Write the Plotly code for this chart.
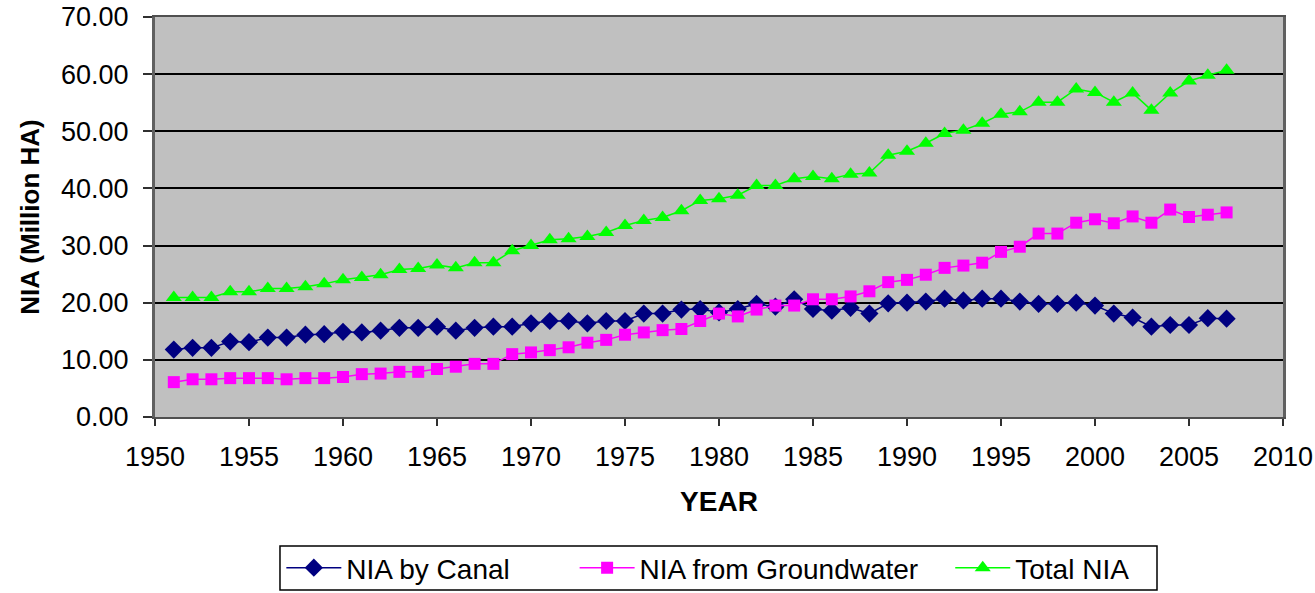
import plotly.graph_objects as go

years = list(range(1951, 2008))

canal = [11.8, 12.1, 12.1, 13.2, 13.1, 13.9, 13.9, 14.4, 14.5, 14.9,
         14.8, 15.1, 15.6, 15.6, 15.8, 15.1, 15.6, 15.8, 15.8, 16.4,
         16.8, 16.8, 16.4, 16.8, 16.8, 18.1, 18.1, 18.8, 18.9, 18.3,
         18.9, 19.8, 19.3, 20.6, 18.9, 18.6, 19.1, 18.1, 19.9, 20.0,
         20.2, 20.7, 20.4, 20.7, 20.7, 20.2, 19.8, 19.8, 20.0, 19.5,
         18.1, 17.4, 15.8, 16.1, 16.1, 17.3, 17.2]

groundwater = [6.1, 6.6, 6.6, 6.8, 6.8, 6.8, 6.6, 6.8, 6.8, 7.0,
               7.5, 7.6, 7.9, 7.9, 8.4, 8.8, 9.3, 9.3, 11.0, 11.3,
               11.7, 12.2, 13.0, 13.5, 14.4, 14.8, 15.2, 15.4, 16.8, 18.1,
               17.6, 18.8, 19.5, 19.5, 20.6, 20.6, 21.1, 22.0, 23.6, 24.0,
               24.9, 26.1, 26.5, 27.0, 28.9, 29.8, 32.1, 32.1, 34.0, 34.6,
               33.9, 35.1, 34.0, 36.3, 35.0, 35.4, 35.8]

total = [20.9, 20.9, 20.9, 21.9, 21.9, 22.5, 22.5, 22.8, 23.3, 24.0,
         24.4, 24.9, 25.8, 26.0, 26.6, 26.1, 27.0, 27.0, 29.1, 30.0,
         31.0, 31.2, 31.6, 32.3, 33.5, 34.4, 34.9, 36.1, 37.9, 38.2,
         38.8, 40.5, 40.5, 41.7, 42.1, 41.7, 42.5, 42.7, 45.8, 46.5,
         47.9, 49.6, 50.2, 51.4, 53.0, 53.4, 55.1, 55.1, 57.4, 56.8,
         55.1, 56.7, 53.7, 56.7, 58.8, 59.8, 60.7]

x_ticks = list(range(1950, 2011, 5))
y_ticks = list(range(0, 71, 10))

font_family = "Liberation Sans, Arial, sans-serif"

fig = go.Figure()
fig.add_trace(go.Scatter(x=years, y=canal, name="NIA by Canal", mode="lines+markers",
                         line=dict(color="#000080", width=1.5), legend="legend",
                         marker=dict(symbol="diamond", size=14, color="#000080")))
fig.add_trace(go.Scatter(x=years, y=groundwater, name="NIA from Groundwater", mode="lines+markers",
                         line=dict(color="#FF00FF", width=1.5), legend="legend2",
                         marker=dict(symbol="square", size=12, color="#FF00FF")))
fig.add_trace(go.Scatter(x=years, y=total, name="Total NIA", mode="lines+markers",
                         line=dict(color="#00FF00", width=1.5), legend="legend3",
                         marker=dict(symbol="triangle-up", size=14, color="#00FF00")))

leg_common = dict(orientation="h", yanchor="middle", y=-0.3775, xanchor="left",
                  bgcolor="rgba(0,0,0,0)", borderwidth=0,
                  font=dict(size=28), itemwidth=55)

fig.update_layout(
    width=1315, height=593,
    margin=dict(l=155, r=32, t=17, b=176, autoexpand=False),
    paper_bgcolor="white",
    plot_bgcolor="#C0C0C0",
    font=dict(family=font_family, size=27, color="black"),
    showlegend=True,
    legend=dict(x=0.112, **leg_common),
    legend2=dict(x=0.372, **leg_common),
    legend3=dict(x=0.705, **leg_common),
    shapes=[dict(type="rect", xref="paper", yref="paper",
                 x0=0.1108, x1=0.8883, y0=-0.4325, y1=-0.3225,
                 fillcolor="white", line=dict(color="black", width=1.5), layer="above")],
    xaxis=dict(range=[1950, 2010], tickvals=x_ticks, ticks="outside", ticklen=7,
               tickcolor="#303030", tickwidth=2, showgrid=False, zeroline=False,
               showline=True, linecolor="#505050", linewidth=2, mirror=True,
               automargin=False, ticklabelstandoff=8,
               title=dict(text="<b>YEAR</b>", font=dict(size=28), standoff=20)),
    yaxis=dict(range=[0, 70], tickvals=y_ticks, tickformat=".2f", ticks="outside", ticklen=9,
               tickcolor="#303030", tickwidth=2, showgrid=True, gridcolor="black", gridwidth=1.5,
               zeroline=False, showline=True, linecolor="#606060", linewidth=3, mirror=True,
               automargin=False, ticklabelstandoff=9,
               title=dict(text="<b>NIA (Million HA)</b>", font=dict(size=26), standoff=14)),
)

fig.write_html("out.html", config={"displayModeBar": False},
               post_script="document.body.style.margin='0';")
